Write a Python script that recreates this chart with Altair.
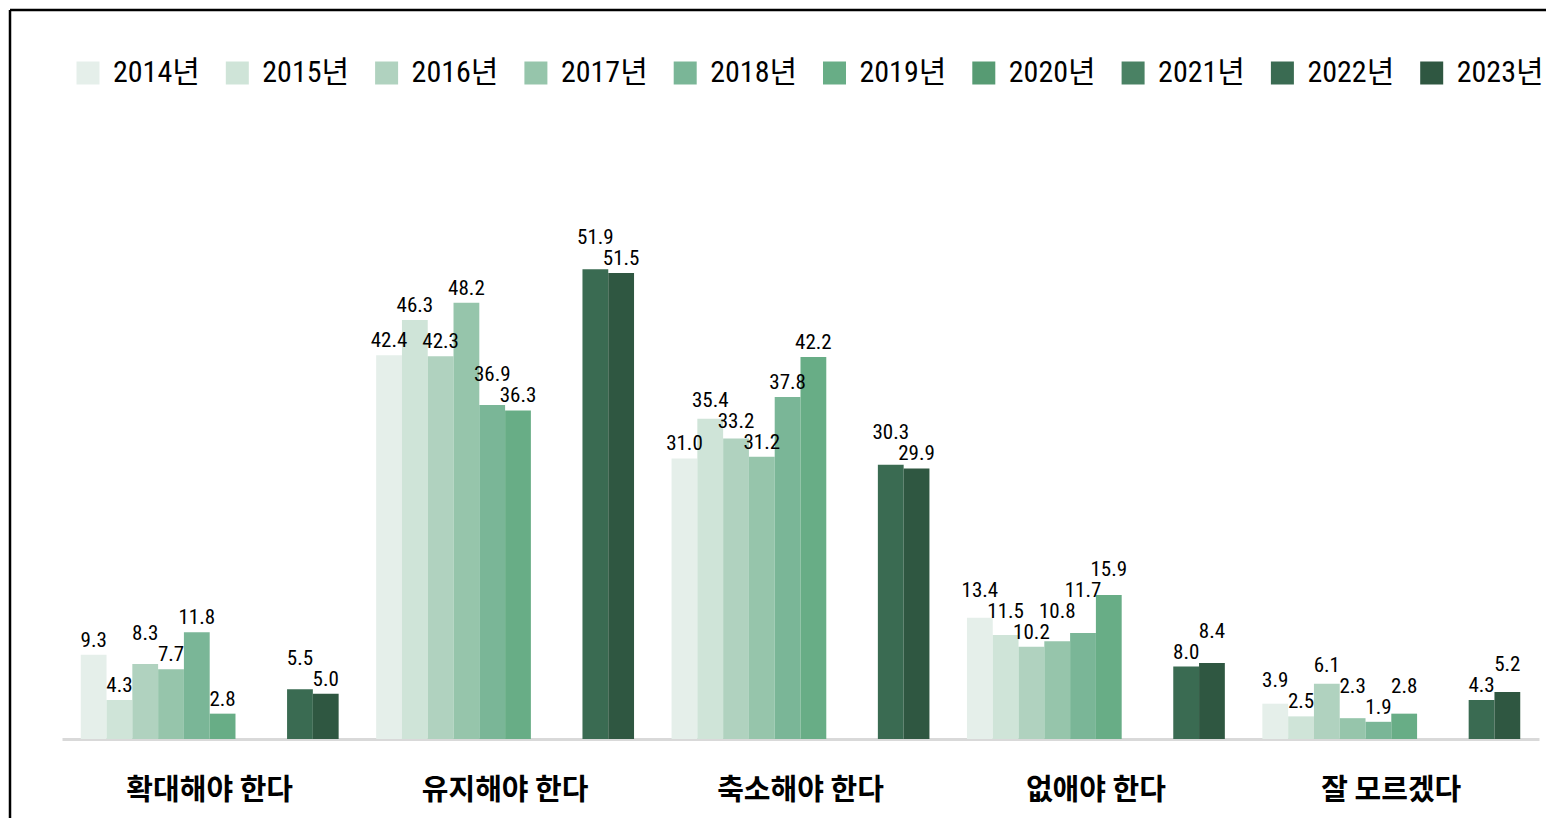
import altair as alt
import pandas as pd

years = ["2014년", "2015년", "2016년", "2017년", "2018년", "2019년", "2020년", "2021년", "2022년", "2023년"]
categories = ["확대해야 한다", "유지해야 한다", "축소해야 한다", "없애야 한다", "잘 모르겠다"]

v2014 = [9.3, 42.4, 31.0, 13.4, 3.9]
v2015 = [4.3, 46.3, 35.4, 11.5, 2.5]
v2016 = [8.3, 42.3, 33.2, 10.2, 6.1]
v2017 = [7.7, 48.2, 31.2, 10.8, 2.3]
v2018 = [11.8, 36.9, 37.8, 11.7, 1.9]
v2019 = [2.8, 36.3, 42.2, 15.9, 2.8]
v2020 = [None, None, None, None, None]
v2021 = [None, None, None, None, None]
v2022 = [5.5, 51.9, 30.3, 8.0, 4.3]
v2023 = [5.0, 51.5, 29.9, 8.4, 5.2]

colors = ["#e5efea", "#cfe4d8", "#b0d2bf", "#96c5ab", "#7ab697",
          "#68ad86", "#579b73", "#4a8264", "#3a6b52", "#2f5741"]

series = [v2014, v2015, v2016, v2017, v2018, v2019, v2020, v2021, v2022, v2023]
rows = []
for yi, (yr, vals) in enumerate(zip(years, series)):
    for c, v in zip(categories, vals):
        if v is not None:
            rows.append({"category": c, "year": yr, "yidx": yi, "value": v})
df = pd.DataFrame(rows)

PLOT_W = 1477
PLOT_H = 543
YMAX = 60
P = PLOT_H / YMAX      # pixels per unit
H = 21                 # label height used to keep neighbouring labels apart

COND = "'Roboto Condensed', Roboto, 'Noto Sans CJK KR', sans-serif"

x_enc = alt.X("category:N", sort=categories,
              scale=alt.Scale(paddingInner=0.127, paddingOuter=0.0635),
              axis=alt.Axis(title=None, labelAngle=0, ticks=False, tickSize=0,
                            labelPadding=37, labelFont="Noto Sans CJK KR",
                            labelFontSize=29, labelFontWeight="bold",
                            labelColor="#000000", domainColor="#d9d9d9",
                            domainWidth=3))
xoff = alt.XOffset("year:N", sort=years,
                   scale=alt.Scale(domain=years, paddingInner=0, paddingOuter=0))
yscale = alt.Scale(domain=[0, YMAX], nice=False)

bars = alt.Chart(df).mark_bar(strokeWidth=0).encode(
    x=x_enc,
    xOffset=xoff,
    y=alt.Y("value:Q", scale=yscale, axis=None),
    color=alt.Color("year:N", sort=years,
                    scale=alt.Scale(domain=years, range=colors),
                    legend=alt.Legend(title=None, orient="none", legendX=11, legendY=-138,
                                      direction="horizontal", columns=10,
                                      symbolType="square", symbolSize=529,
                                      symbolStrokeWidth=0, labelFont=COND,
                                      labelFontSize=30, labelOffset=10,
                                      columnPadding=22.3, gridAlign="all",
                                      labelColor="#000000", labelLimit=300)),
)

# label placement: each label is pushed up just enough to clear the label of a
# shorter neighbouring bar (iterated until stable)
lab = alt.Chart(df).transform_window(
    vp="lag(value)", vn="lead(value)", ip="lag(yidx)", inx="lead(yidx)",
    groupby=["category"], sort=[alt.SortField("yidx", order="ascending")],
).transform_calculate(b0=f"datum.value * {P}")
for k in range(7):
    lab = lab.transform_window(
        bp=f"lag(b{k})", bn=f"lead(b{k})",
        groupby=["category"], sort=[alt.SortField("yidx", order="ascending")],
    ).transform_calculate(**{
        f"b{k+1}": (
            f"max(datum.value * {P}, "
            f"(isValid(datum.ip) && datum.yidx - datum.ip == 1 && datum.vp <= datum.value) ? datum.bp + {H} : 0, "
            f"(isValid(datum.inx) && datum.inx - datum.yidx == 1 && datum.vn < datum.value) ? datum.bn + {H} : 0)"
        )
    })
lab = lab.transform_calculate(ly=f"datum.b7 / {P}")

labels = lab.mark_text(baseline="bottom", dy=-4, font=COND,
                       fontSize=21, color="#000000").encode(
    x=alt.X("category:N", sort=categories),
    xOffset=xoff,
    y=alt.Y("ly:Q", scale=yscale, axis=None),
    text=alt.Text("value:Q", format=".1f"),
)

frame_src = alt.Data(values=[{"k": 1}])
top_line = alt.Chart(frame_src).mark_rule(color="#000000", strokeWidth=2.5).encode(
    x=alt.value(-52), x2=alt.value(1484), y=alt.value(-186))
left_line = alt.Chart(frame_src).mark_rule(color="#000000", strokeWidth=2.5).encode(
    x=alt.value(-52), y=alt.value(-186), y2=alt.value(622))

chart = alt.layer(bars, labels, top_line, left_line).properties(
    width=PLOT_W, height=PLOT_H, padding=0,
).configure(background="#ffffff").configure_view(stroke="transparent", strokeWidth=0)

chart.save("out.html", embed_options={"renderer": "svg", "actions": False})
